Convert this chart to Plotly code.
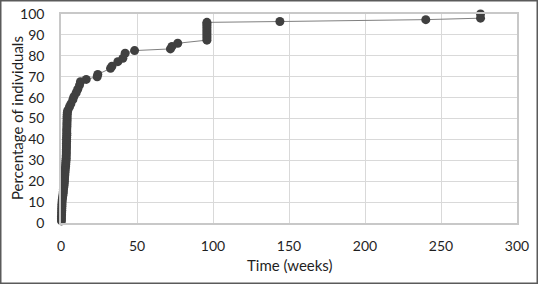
import plotly.graph_objects as go

# Time (weeks) and cumulative percentage of individuals
time_weeks = [
    0.3, 0.3, 0.3, 0.4, 0.4, 0.5, 0.5, 0.6, 0.6, 0.7, 0.8, 1.0, 1.2, 1.4, 1.5,
    1.6, 1.8, 2.0, 2.1, 2.2, 2.3, 2.4, 2.5, 2.6, 2.7, 2.8, 3.0, 3.1, 3.2, 3.3,
    3.4, 3.4, 3.5, 3.5, 3.5, 3.6, 3.6, 3.6, 3.7, 3.7, 3.7, 3.8, 3.8, 3.8, 3.8,
    3.9, 3.9, 3.9, 4.0, 4.0, 4.0, 4.1, 4.2, 4.5, 5.6, 6.5, 7.8, 8.5, 10.0,
    11.0, 12.2, 12.8, 16.6, 23.8, 24.2, 32.6, 33.5, 37.4, 40.7, 42.2, 48.4,
    72.0, 73.0, 76.8, 96.0, 96.0, 96.0, 96.0, 96.0, 96.0, 96.0, 96.0, 96.0,
    96.0, 144.0, 240.0, 276.0, 276.0,
]
percent = [
    1, 2, 3, 4, 5, 6, 7, 8, 9, 10, 11, 12, 13, 14, 15,
    16, 17, 18, 19, 20, 21, 22, 23, 24, 25, 26, 27, 28, 29, 30,
    31, 32, 33, 34, 35, 36, 37, 38, 39, 40, 41, 42, 43, 44, 45,
    46, 47, 48, 49, 50, 51, 52, 53, 54, 55.6, 57, 59, 60.5, 62.3,
    64, 66, 67.6, 68.7, 70, 71.1, 74, 75, 77.2, 78.8, 81.2, 82.5,
    83.3, 84.5, 86, 87.5, 88.5, 89.5, 90.5, 91.5, 92.5, 93.5, 94.5, 95.3,
    96, 96.4, 97.3, 98, 100,
]

x_ticks = [0, 50, 100, 150, 200, 250, 300]
y_ticks = [0, 10, 20, 30, 40, 50, 60, 70, 80, 90, 100]
x_title = "Time (weeks)"
y_title = "Percentage of individuals"

FONT = "Lato, 'Open Sans', sans-serif"
TXT = "#1f1f1f"

fig = go.Figure()
fig.add_trace(go.Scatter(
    x=time_weeks, y=percent, mode="lines+markers",
    line=dict(color="#808080", width=1),
    marker=dict(color="#404040", size=9, line=dict(width=0)),
    showlegend=False, cliponaxis=False,
))

W, H = 538, 284
ml, mr, mt, mb = 61, 21, 14, 61
pw, ph = W - ml - mr, H - mt - mb

fig.update_layout(
    width=W, height=H,
    margin=dict(l=ml, r=mr, t=mt, b=mb, pad=0, autoexpand=False),
    paper_bgcolor="white", plot_bgcolor="white",
    font=dict(family=FONT, size=14, color=TXT),
    xaxis=dict(
        range=[0, 300], tickvals=x_ticks, ticktext=[str(v) for v in x_ticks],
        showgrid=True, gridcolor="#d9d9d9", gridwidth=1.3,
        zeroline=False, showline=True, linecolor="#c8c8c8", linewidth=1.5,
        mirror=True, ticks="", ticklabelstandoff=9, automargin=False,
    ),
    yaxis=dict(
        range=[0, 100], tickvals=y_ticks, ticktext=[str(v) for v in y_ticks],
        showgrid=True, gridcolor="#d9d9d9", gridwidth=1.3,
        zeroline=False, showline=True, linecolor="#c8c8c8", linewidth=1.5,
        mirror=True, ticks="", ticklabelstandoff=12, automargin=False,
    ),
    annotations=[
        dict(text=x_title, xref="paper", yref="paper",
             x=(290 - ml) / pw, y=-(265 - mt - ph) / ph,
             xanchor="center", yanchor="middle", showarrow=False,
             font=dict(size=15, family=FONT, color=TXT)),
        dict(text=y_title, xref="paper", yref="paper",
             x=-(ml - 17) / pw, y=(H - mb - 118) / ph,
             xanchor="center", yanchor="middle", showarrow=False, textangle=-90,
             font=dict(size=15, family=FONT, color=TXT)),
    ],
    shapes=[dict(
        type="rect", xref="paper", yref="paper",
        x0=-(ml - 0.75) / pw, x1=1 + (mr - 0.75) / pw,
        y0=-(mb - 0.75) / ph, y1=1 + (mt - 0.75) / ph,
        line=dict(color="#5a5a5a", width=1.5), fillcolor="rgba(0,0,0,0)",
        layer="above",
    )],
)

fig.write_html("out.html")
